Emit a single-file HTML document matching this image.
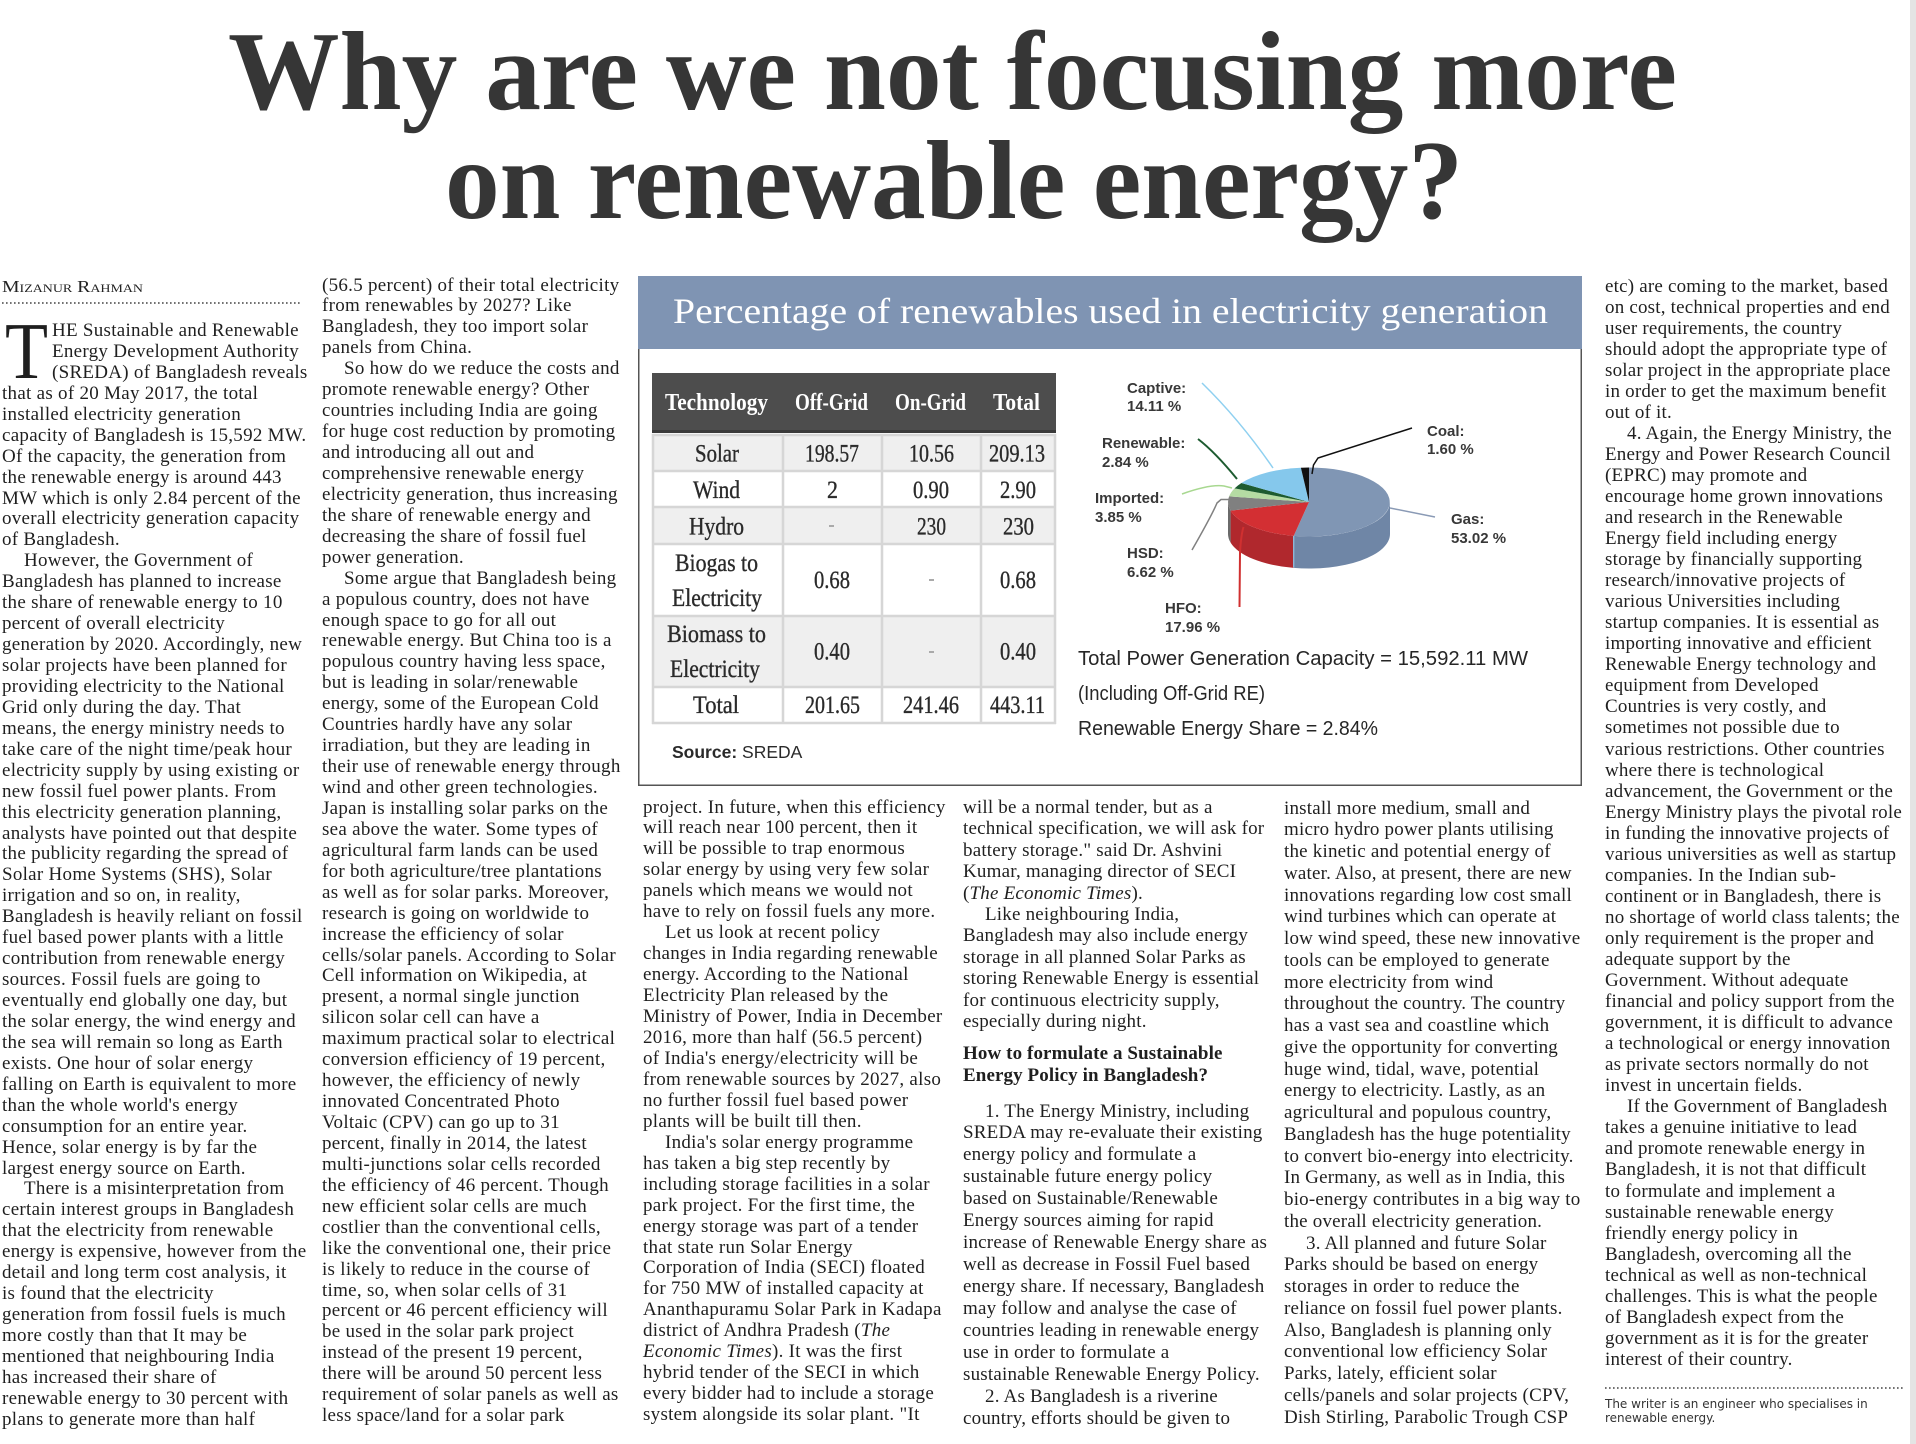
<!DOCTYPE html>
<html>
<head>
<meta charset="utf-8">
<style>
html,body{margin:0;padding:0;background:#fff;}
body{width:1916px;height:1444px;position:relative;overflow:hidden;}
svg.bg{position:absolute;left:0;top:0;}
.c{position:absolute;font-family:"Liberation Serif",serif;font-size:19px;color:#1f1f1f;white-space:nowrap;letter-spacing:0.28px;}
.c div{overflow:visible;}
.w{letter-spacing:0.2px;}
.i{padding-left:22px;}
.d{padding-left:50px;}
.h{font-weight:bold;letter-spacing:0.1px;}
.fn{position:absolute;left:1605px;top:1396.5px;font-family:"DejaVu Sans","Liberation Sans",sans-serif;font-size:12px;line-height:14.6px;color:#333;white-space:nowrap;}
</style>
</head>
<body>
<svg class="bg" width="1916" height="1444" viewBox="0 0 1916 1444" xmlns="http://www.w3.org/2000/svg">
  <rect x="1910" y="0" width="6" height="1444" fill="#e4e4e4"/>

  <text x="228" y="109" font-family="Liberation Serif, serif" font-weight="bold" font-size="112" fill="#363636" textLength="1449" lengthAdjust="spacingAndGlyphs">Why are we not focusing more</text>
  <text x="445" y="218" font-family="Liberation Serif, serif" font-weight="bold" font-size="112" fill="#363636" textLength="1018" lengthAdjust="spacingAndGlyphs">on renewable energy?</text>

  <text x="2" y="292" font-family="Liberation Serif, serif" font-size="17" fill="#222" style="font-variant:small-caps" textLength="141" lengthAdjust="spacingAndGlyphs">Mizanur Rahman</text>
  <line x1="2" y1="303" x2="300" y2="303" stroke="#444" stroke-width="1.6" stroke-dasharray="1.6 2.4"/>

  <text x="5" y="378" font-family="Liberation Serif, serif" font-size="80" fill="#1f1f1f" textLength="43" lengthAdjust="spacingAndGlyphs">T</text>

  <rect x="638.75" y="276.75" width="942.5" height="508.5" fill="#fff" stroke="#555" stroke-width="1.5"/>
  <rect x="638" y="276" width="944" height="73" fill="#7f94b3"/>
  <text x="673" y="323" font-family="Liberation Serif, serif" font-size="36" fill="#ffffff" textLength="875" lengthAdjust="spacingAndGlyphs">Percentage of renewables used in electricity generation</text>

  <rect x="652" y="373" width="404" height="60" fill="#4d4d4d"/>
  <rect x="652" y="430" width="404" height="3" fill="#3a3a3a"/>
  <rect x="652" y="435" width="404" height="36" fill="#efefef"/>
  <rect x="652" y="471" width="404" height="36" fill="#ffffff"/>
  <rect x="652" y="507" width="404" height="37" fill="#efefef"/>
  <rect x="652" y="544" width="404" height="72" fill="#ffffff"/>
  <rect x="652" y="616" width="404" height="71" fill="#efefef"/>
  <rect x="652" y="687" width="404" height="36" fill="#ffffff"/>
  <g stroke="#d6d6d6" stroke-width="2.5">
    <line x1="652" y1="435" x2="1056" y2="435"/>
    <line x1="652" y1="471" x2="1056" y2="471"/>
    <line x1="652" y1="507" x2="1056" y2="507"/>
    <line x1="652" y1="544" x2="1056" y2="544"/>
    <line x1="652" y1="616" x2="1056" y2="616"/>
    <line x1="652" y1="687" x2="1056" y2="687"/>
    <line x1="652" y1="723" x2="1056" y2="723"/>
    <line x1="653" y1="434" x2="653" y2="724"/>
    <line x1="783" y1="434" x2="783" y2="724"/>
    <line x1="882" y1="434" x2="882" y2="724"/>
    <line x1="981" y1="434" x2="981" y2="724"/>
    <line x1="1055" y1="434" x2="1055" y2="724"/>
  </g>
  <g font-family="Liberation Serif, serif" font-weight="bold" font-size="24" fill="#ffffff">
    <text x="665" y="410" textLength="103" lengthAdjust="spacingAndGlyphs">Technology</text>
    <text x="795" y="410" textLength="73" lengthAdjust="spacingAndGlyphs">Off-Grid</text>
    <text x="895" y="410" textLength="71" lengthAdjust="spacingAndGlyphs">On-Grid</text>
    <text x="993" y="410" textLength="47" lengthAdjust="spacingAndGlyphs">Total</text>
  </g>
  <g font-family="Liberation Serif, serif" font-size="25" fill="#2a2a2a" stroke="#2a2a2a" stroke-width="0.35">
    <text x="695" y="461.5" textLength="44" lengthAdjust="spacingAndGlyphs">Solar</text>
    <text x="805" y="461.5" textLength="54" lengthAdjust="spacingAndGlyphs">198.57</text>
    <text x="909" y="461.5" textLength="45" lengthAdjust="spacingAndGlyphs">10.56</text>
    <text x="989" y="461.5" textLength="56" lengthAdjust="spacingAndGlyphs">209.13</text>

    <text x="693" y="498" textLength="47" lengthAdjust="spacingAndGlyphs">Wind</text>
    <text x="827" y="498" textLength="11" lengthAdjust="spacingAndGlyphs">2</text>
    <text x="913" y="498" textLength="36" lengthAdjust="spacingAndGlyphs">0.90</text>
    <text x="1000" y="498" textLength="36" lengthAdjust="spacingAndGlyphs">2.90</text>

    <text x="689" y="534.5" textLength="55" lengthAdjust="spacingAndGlyphs">Hydro</text>
    <text x="917" y="534.5" textLength="29" lengthAdjust="spacingAndGlyphs">230</text>
    <text x="1003" y="534.5" textLength="31" lengthAdjust="spacingAndGlyphs">230</text>

    <text x="675" y="571" textLength="83" lengthAdjust="spacingAndGlyphs">Biogas to</text>
    <text x="672" y="606" textLength="90" lengthAdjust="spacingAndGlyphs">Electricity</text>
    <text x="814" y="588" textLength="36" lengthAdjust="spacingAndGlyphs">0.68</text>
    <text x="1000" y="588" textLength="36" lengthAdjust="spacingAndGlyphs">0.68</text>

    <text x="667" y="642" textLength="99" lengthAdjust="spacingAndGlyphs">Biomass to</text>
    <text x="670" y="677" textLength="90" lengthAdjust="spacingAndGlyphs">Electricity</text>
    <text x="814" y="659.5" textLength="36" lengthAdjust="spacingAndGlyphs">0.40</text>
    <text x="1000" y="659.5" textLength="36" lengthAdjust="spacingAndGlyphs">0.40</text>

    <text x="693" y="713" textLength="46" lengthAdjust="spacingAndGlyphs">Total</text>
    <text x="805" y="713" textLength="55" lengthAdjust="spacingAndGlyphs">201.65</text>
    <text x="903" y="713" textLength="56" lengthAdjust="spacingAndGlyphs">241.46</text>
    <text x="990" y="713" textLength="55" lengthAdjust="spacingAndGlyphs">443.11</text>
  </g>
  <g fill="#aaaaaa">
    <rect x="829" y="525" width="5" height="2"/>
    <rect x="929" y="579" width="5" height="2"/>
    <rect x="929" y="651" width="5" height="2"/>
  </g>
  <text x="672" y="758" font-family="Liberation Sans, sans-serif" font-size="17.5" fill="#2a2a2a"><tspan font-weight="bold">Source:</tspan> SREDA</text>

  <path d="M1390,502 A81,34.5 0 0 1 1293.7,535.9 L1293.7,567.9 A81,34.5 0 0 0 1390,534 Z" fill="#6f86a6"/>
  <path d="M1293.7,535.9 A81,34.5 0 0 1 1230.6,510.6 L1230.6,542.6 A81,34.5 0 0 0 1293.7,567.9 Z" fill="#b0282d"/>
  <path d="M1230.6,510.6 A81,34.5 0 0 1 1228,502 L1228,534 A81,34.5 0 0 0 1230.6,542.6 Z" fill="#6a6a6a"/>
  <line x1="1293.7" y1="536" x2="1293.7" y2="567.5" stroke="#8fc6e6" stroke-width="1.2"/>
  <path d="M1309,502 L1309,467.5 A81,34.5 0 1 1 1293.7,535.9 Z" fill="#8096b4"/>
  <path d="M1309,502 L1293.7,535.9 A81,34.5 0 0 1 1230.6,510.6 Z" fill="#d32f33"/>
  <path d="M1309,502 L1230.6,510.6 A81,34.5 0 0 1 1229.1,496.4 Z" fill="#808080"/>
  <path d="M1309,502 L1229.1,496.4 A81,34.5 0 0 1 1234.6,488.4 Z" fill="#b5dba3"/>
  <path d="M1309,502 L1234.6,488.4 A81,34.5 0 0 1 1241.4,483.0 Z" fill="#1d5b30"/>
  <path d="M1309,502 L1241.4,483.0 A81,34.5 0 0 1 1300.9,467.7 Z" fill="#85c8ec"/>
  <path d="M1309,502 L1300.9,467.7 A81,34.5 0 0 1 1309,467.5 Z" fill="#111111"/>

  <g fill="none" stroke-width="1.5">
    <path d="M1202,383 Q1240,420 1273,468" stroke="#8fd0f0"/>
    <path d="M1198,439 Q1215,452 1237,479" stroke="#1d5b30" stroke-width="2"/>
    <path d="M1182,494 Q1210,484 1224,486 L1232,488" stroke="#a8d890"/>
    <path d="M1192,550 Q1212,515 1217,503 L1221,499.5 L1229,499.5" stroke="#808080"/>
    <path d="M1239.5,607 L1240,553 Q1241,535 1243.5,527" stroke="#d03030" stroke-width="2"/>
    <path d="M1412,428 L1318,458 L1313.5,465 L1312,474" stroke="#111"/>
    <path d="M1390,508 L1435,517" stroke="#8a9ab5"/>
  </g>

  <g font-family="Liberation Sans, sans-serif" font-weight="bold" font-size="15" fill="#383838">
    <text x="1127" y="393">Captive:</text>
    <text x="1127" y="411">14.11 %</text>
    <text x="1102" y="448">Renewable:</text>
    <text x="1102" y="467">2.84 %</text>
    <text x="1095" y="503">Imported:</text>
    <text x="1095" y="522">3.85 %</text>
    <text x="1127" y="558">HSD:</text>
    <text x="1127" y="577">6.62 %</text>
    <text x="1165" y="613">HFO:</text>
    <text x="1165" y="632">17.96 %</text>
    <text x="1427" y="436">Coal:</text>
    <text x="1427" y="454">1.60 %</text>
    <text x="1451" y="524">Gas:</text>
    <text x="1451" y="543">53.02 %</text>
  </g>

  <g font-family="Liberation Sans, sans-serif" font-size="20" fill="#262626">
    <text x="1078" y="665" textLength="450" lengthAdjust="spacingAndGlyphs">Total Power Generation Capacity = 15,592.11 MW</text>
    <text x="1078" y="700" textLength="187" lengthAdjust="spacingAndGlyphs">(Including Off-Grid RE)</text>
    <text x="1078" y="735" textLength="300" lengthAdjust="spacingAndGlyphs">Renewable Energy Share = 2.84%</text>
  </g>

  <line x1="1605" y1="1388" x2="1905" y2="1388" stroke="#444" stroke-width="1.6" stroke-dasharray="1.6 2.4"/>
</svg>

<div class="c" style="left:2px;top:321px;line-height:20.94px;">
<div class="d">HE Sustainable and Renewable</div>
<div class="d">Energy Development Authority</div>
<div class="d">(SREDA) of Bangladesh reveals</div>
<div>that as of 20 May 2017, the total</div>
<div>installed electricity generation</div>
<div>capacity of Bangladesh is 15,592 MW.</div>
<div>Of the capacity, the generation from</div>
<div>the renewable energy is around 443</div>
<div>MW which is only 2.84 percent of the</div>
<div>overall electricity generation capacity</div>
<div>of Bangladesh.</div>
<div class="i">However, the Government of</div>
<div>Bangladesh has planned to increase</div>
<div>the share of renewable energy to 10</div>
<div>percent of overall electricity</div>
<div>generation by 2020. Accordingly, new</div>
<div>solar projects have been planned for</div>
<div>providing electricity to the National</div>
<div>Grid only during the day. That</div>
<div>means, the energy ministry needs to</div>
<div>take care of the night time/peak hour</div>
<div>electricity supply by using existing or</div>
<div>new fossil fuel power plants. From</div>
<div>this electricity generation planning,</div>
<div>analysts have pointed out that despite</div>
<div>the publicity regarding the spread of</div>
<div>Solar Home Systems (SHS), Solar</div>
<div>irrigation and so on, in reality,</div>
<div>Bangladesh is heavily reliant on fossil</div>
<div>fuel based power plants with a little</div>
<div>contribution from renewable energy</div>
<div>sources. Fossil fuels are going to</div>
<div>eventually end globally one day, but</div>
<div>the solar energy, the wind energy and</div>
<div>the sea will remain so long as Earth</div>
<div>exists. One hour of solar energy</div>
<div>falling on Earth is equivalent to more</div>
<div>than the whole world's energy</div>
<div>consumption for an entire year.</div>
<div>Hence, solar energy is by far the</div>
<div>largest energy source on Earth.</div>
<div class="i">There is a misinterpretation from</div>
<div>certain interest groups in Bangladesh</div>
<div>that the electricity from renewable</div>
<div>energy is expensive, however from the</div>
<div>detail and long term cost analysis, it</div>
<div>is found that the electricity</div>
<div>generation from fossil fuels is much</div>
<div>more costly than that It may be</div>
<div>mentioned that neighbouring India</div>
<div>has increased their share of</div>
<div>renewable energy to 30 percent with</div>
<div>plans to generate more than half</div>
</div>

<div class="c" style="left:322px;top:275.5px;line-height:20.94px;">
<div>(56.5 percent) of their total electricity</div>
<div>from renewables by 2027? Like</div>
<div>Bangladesh, they too import solar</div>
<div>panels from China.</div>
<div class="i">So how do we reduce the costs and</div>
<div>promote renewable energy? Other</div>
<div>countries including India are going</div>
<div>for huge cost reduction by promoting</div>
<div>and introducing all out and</div>
<div>comprehensive renewable energy</div>
<div>electricity generation, thus increasing</div>
<div>the share of renewable energy and</div>
<div>decreasing the share of fossil fuel</div>
<div>power generation.</div>
<div class="i">Some argue that Bangladesh being</div>
<div>a populous country, does not have</div>
<div>enough space to go for all out</div>
<div>renewable energy. But China too is a</div>
<div>populous country having less space,</div>
<div>but is leading in solar/renewable</div>
<div>energy, some of the European Cold</div>
<div>Countries hardly have any solar</div>
<div>irradiation, but they are leading in</div>
<div>their use of renewable energy through</div>
<div>wind and other green technologies.</div>
<div>Japan is installing solar parks on the</div>
<div>sea above the water. Some types of</div>
<div>agricultural farm lands can be used</div>
<div>for both agriculture/tree plantations</div>
<div>as well as for solar parks. Moreover,</div>
<div>research is going on worldwide to</div>
<div>increase the efficiency of solar</div>
<div>cells/solar panels. According to Solar</div>
<div>Cell information on Wikipedia, at</div>
<div>present, a normal single junction</div>
<div>silicon solar cell can have a</div>
<div>maximum practical solar to electrical</div>
<div>conversion efficiency of 19 percent,</div>
<div>however, the efficiency of newly</div>
<div>innovated Concentrated Photo</div>
<div>Voltaic (CPV) can go up to 31</div>
<div>percent, finally in 2014, the latest</div>
<div>multi-junctions solar cells recorded</div>
<div>the efficiency of 46 percent. Though</div>
<div>new efficient solar cells are much</div>
<div>costlier than the conventional cells,</div>
<div>like the conventional one, their price</div>
<div>is likely to reduce in the course of</div>
<div>time, so, when solar cells of 31</div>
<div>percent or 46 percent efficiency will</div>
<div>be used in the solar park project</div>
<div>instead of the present 19 percent,</div>
<div>there will be around 50 percent less</div>
<div>requirement of solar panels as well as</div>
<div>less space/land for a solar park</div>
</div>

<div class="c" style="left:643px;top:797.5px;line-height:20.95px;">
<div>project. In future, when this efficiency</div>
<div>will reach near 100 percent, then it</div>
<div>will be possible to trap enormous</div>
<div>solar energy by using very few solar</div>
<div>panels which means we would not</div>
<div>have to rely on fossil fuels any more.</div>
<div class="i">Let us look at recent policy</div>
<div>changes in India regarding renewable</div>
<div>energy. According to the National</div>
<div>Electricity Plan released by the</div>
<div>Ministry of Power, India in December</div>
<div>2016, more than half (56.5 percent)</div>
<div>of India's energy/electricity will be</div>
<div>from renewable sources by 2027, also</div>
<div>no further fossil fuel based power</div>
<div>plants will be built till then.</div>
<div class="i">India's solar energy programme</div>
<div>has taken a big step recently by</div>
<div>including storage facilities in a solar</div>
<div>park project. For the first time, the</div>
<div>energy storage was part of a tender</div>
<div>that state run Solar Energy</div>
<div>Corporation of India (SECI) floated</div>
<div>for 750 MW of installed capacity at</div>
<div>Ananthapuramu Solar Park in Kadapa</div>
<div>district of Andhra Pradesh (<i>The</i></div>
<div><i>Economic Times</i>). It was the first</div>
<div>hybrid tender of the SECI in which</div>
<div>every bidder had to include a storage</div>
<div>system alongside its solar plant. "It</div>
</div>

<div class="c w" style="left:963px;top:797px;line-height:21.4px;">
<div>will be a normal tender, but as a</div>
<div>technical specification, we will ask for</div>
<div>battery storage." said Dr. Ashvini</div>
<div>Kumar, managing director of SECI</div>
<div>(<i>The Economic Times</i>).</div>
<div class="i">Like neighbouring India,</div>
<div>Bangladesh may also include energy</div>
<div>storage in all planned Solar Parks as</div>
<div>storing Renewable Energy is essential</div>
<div>for continuous electricity supply,</div>
<div>especially during night.</div>
</div>
<div class="c h" style="left:963px;top:1043px;line-height:22px;">
<div>How to formulate a Sustainable</div>
<div>Energy Policy in Bangladesh?</div>
</div>
<div class="c w" style="left:963px;top:1100.5px;line-height:21.96px;">
<div class="i">1. The Energy Ministry, including</div>
<div>SREDA may re-evaluate their existing</div>
<div>energy policy and formulate a</div>
<div>sustainable future energy policy</div>
<div>based on Sustainable/Renewable</div>
<div>Energy sources aiming for rapid</div>
<div>increase of Renewable Energy share as</div>
<div>well as decrease in Fossil Fuel based</div>
<div>energy share. If necessary, Bangladesh</div>
<div>may follow and analyse the case of</div>
<div>countries leading in renewable energy</div>
<div>use in order to formulate a</div>
<div>sustainable Renewable Energy Policy.</div>
<div class="i">2. As Bangladesh is a riverine</div>
<div>country, efforts should be given to</div>
</div>

<div class="c w" style="left:1284px;top:797.5px;line-height:21.75px;">
<div>install more medium, small and</div>
<div>micro hydro power plants utilising</div>
<div>the kinetic and potential energy of</div>
<div>water. Also, at present, there are new</div>
<div>innovations regarding low cost small</div>
<div>wind turbines which can operate at</div>
<div>low wind speed, these new innovative</div>
<div>tools can be employed to generate</div>
<div>more electricity from wind</div>
<div>throughout the country. The country</div>
<div>has a vast sea and coastline which</div>
<div>give the opportunity for converting</div>
<div>huge wind, tidal, wave, potential</div>
<div>energy to electricity. Lastly, as an</div>
<div>agricultural and populous country,</div>
<div>Bangladesh has the huge potentiality</div>
<div>to convert bio-energy into electricity.</div>
<div>In Germany, as well as in India, this</div>
<div>bio-energy contributes in a big way to</div>
<div>the overall electricity generation.</div>
<div class="i">3. All planned and future Solar</div>
<div>Parks should be based on energy</div>
<div>storages in order to reduce the</div>
<div>reliance on fossil fuel power plants.</div>
<div>Also, Bangladesh is planning only</div>
<div>conventional low efficiency Solar</div>
<div>Parks, lately, efficient solar</div>
<div>cells/panels and solar projects (CPV,</div>
<div>Dish Stirling, Parabolic Trough CSP</div>
</div>

<div class="c w" style="left:1605px;top:275.5px;line-height:21.05px;">
<div>etc) are coming to the market, based</div>
<div>on cost, technical properties and end</div>
<div>user requirements, the country</div>
<div>should adopt the appropriate type of</div>
<div>solar project in the appropriate place</div>
<div>in order to get the maximum benefit</div>
<div>out of it.</div>
<div class="i">4. Again, the Energy Ministry, the</div>
<div>Energy and Power Research Council</div>
<div>(EPRC) may promote and</div>
<div>encourage home grown innovations</div>
<div>and research in the Renewable</div>
<div>Energy field including energy</div>
<div>storage by financially supporting</div>
<div>research/innovative projects of</div>
<div>various Universities including</div>
<div>startup companies. It is essential as</div>
<div>importing innovative and efficient</div>
<div>Renewable Energy technology and</div>
<div>equipment from Developed</div>
<div>Countries is very costly, and</div>
<div>sometimes not possible due to</div>
<div>various restrictions. Other countries</div>
<div>where there is technological</div>
<div>advancement, the Government or the</div>
<div>Energy Ministry plays the pivotal role</div>
<div>in funding the innovative projects of</div>
<div>various universities as well as startup</div>
<div>companies. In the Indian sub-</div>
<div>continent or in Bangladesh, there is</div>
<div>no shortage of world class talents; the</div>
<div>only requirement is the proper and</div>
<div>adequate support by the</div>
<div>Government. Without adequate</div>
<div>financial and policy support from the</div>
<div>government, it is difficult to advance</div>
<div>a technological or energy innovation</div>
<div>as private sectors normally do not</div>
<div>invest in uncertain fields.</div>
<div class="i">If the Government of Bangladesh</div>
<div>takes a genuine initiative to lead</div>
<div>and promote renewable energy in</div>
<div>Bangladesh, it is not that difficult</div>
<div>to formulate and implement a</div>
<div>sustainable renewable energy</div>
<div>friendly energy policy in</div>
<div>Bangladesh, overcoming all the</div>
<div>technical as well as non-technical</div>
<div>challenges. This is what the people</div>
<div>of Bangladesh expect from the</div>
<div>government as it is for the greater</div>
<div>interest of their country.</div>
</div>

<div class="fn">
<div>The writer is an engineer who specialises in</div>
<div>renewable energy.</div>
</div>
</body>
</html>
